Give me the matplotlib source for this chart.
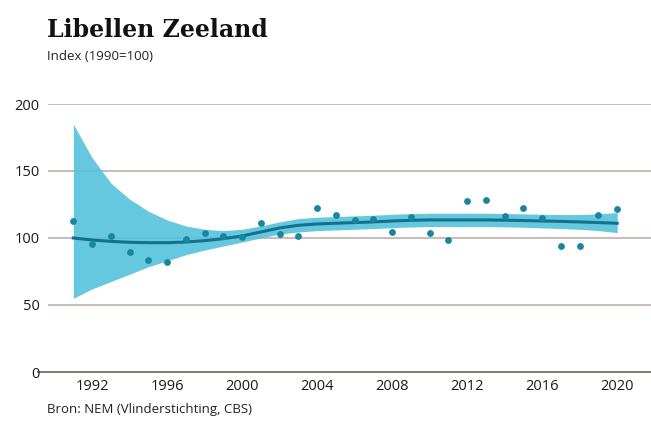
import matplotlib.pyplot as plt

# observed index values per year
years = list(range(1991, 2021))
index_obs = [112.7, 95.3, 101.7, 89.6, 83.6, 82.3, 99.3, 103.5, 101.7, 101.0,
             111.4, 102.7, 101.7, 122.6, 117.2, 113.4, 113.9, 104.5, 115.7, 103.5,
             98.5, 127.4, 128.4, 116.4, 122.2, 115.2, 94.3, 94.3, 116.9, 121.4]

# smoothed trend with confidence band
trend = [100.0, 98.5, 97.5, 96.8, 96.5, 96.5, 97.0, 98.0, 99.5, 101.5,
         104.5, 107.5, 109.5, 110.5, 111.0, 111.5, 112.0, 112.7, 113.2, 113.5,
         113.5, 113.5, 113.5, 113.3, 113.0, 112.7, 112.4, 112.0, 111.5, 111.0]
upper = [185.0, 160.0, 141.0, 129.0, 120.0, 113.5, 109.0, 106.5, 105.5, 106.5,
         109.0, 112.0, 114.5, 115.5, 116.0, 116.5, 117.0, 117.7, 118.2, 118.5,
         118.5, 118.5, 118.5, 118.3, 118.0, 117.7, 117.5, 117.5, 118.0, 119.0]
lower = [55.0, 62.0, 67.5, 73.0, 78.5, 83.0, 87.5, 91.0, 94.0, 97.0,
         100.0, 103.0, 104.5, 105.5, 106.0, 106.5, 107.0, 107.7, 108.2, 108.5,
         108.5, 108.5, 108.5, 108.3, 108.0, 107.5, 107.0, 106.5, 105.5, 104.0]

yticks = [0, 50, 100, 150, 200]
xticks = [1992, 1996, 2000, 2004, 2008, 2012, 2016, 2020]

sans = ['Open Sans', 'DejaVu Sans']

fig = plt.figure(figsize=(6.51, 4.21), dpi=100)
ax = fig.add_axes([48 / 651, 1 - 372 / 421, 1 - 48 / 651, (372 - 104) / 421])

ax.fill_between(years, lower, upper, color='#55c2dc', lw=0, alpha=0.9, zorder=2)
ax.plot(years, trend, color='#14718e', lw=2.2, zorder=3)
ax.scatter(years, index_obs, s=24, color='#17869f', zorder=4, lw=0)

for v in yticks[1:]:
    ax.axhline(v, color='#b8aaa3', lw=1.1, zorder=1)
ax.axhline(0, xmin=-0.016, xmax=1, color='#6e625c', lw=1.2, clip_on=False, zorder=1)

ax.set_xlim(1989.65, 2021.8)
ax.set_ylim(0, 200)
ax.set_yticks(yticks)
ax.set_xticks(xticks)
ax.tick_params(length=0, labelsize=10.5, colors='#1a1a1a')
ax.tick_params(axis='y', pad=6)
ax.tick_params(axis='x', pad=5)
for lab in ax.get_xticklabels() + ax.get_yticklabels():
    lab.set_family(sans)
for s in ax.spines.values():
    s.set_visible(False)
ax.set_facecolor('none')

fig.text(47 / 651, 1 - 30 / 421, 'Libellen Zeeland', fontsize=17, fontweight='bold',
         family=['DejaVu Serif'], va='center', ha='left', color='#111111')
fig.text(47 / 651, 1 - 57 / 421, 'Index (1990=100)', fontsize=9.5,
         family=sans, va='center', ha='left', color='#222222')
fig.text(47 / 651, 1 - 410 / 421, 'Bron: NEM (Vlinderstichting, CBS)', fontsize=9.5,
         family=sans, va='center', ha='left', color='#222222')

fig.savefig('out.png', dpi=100)
